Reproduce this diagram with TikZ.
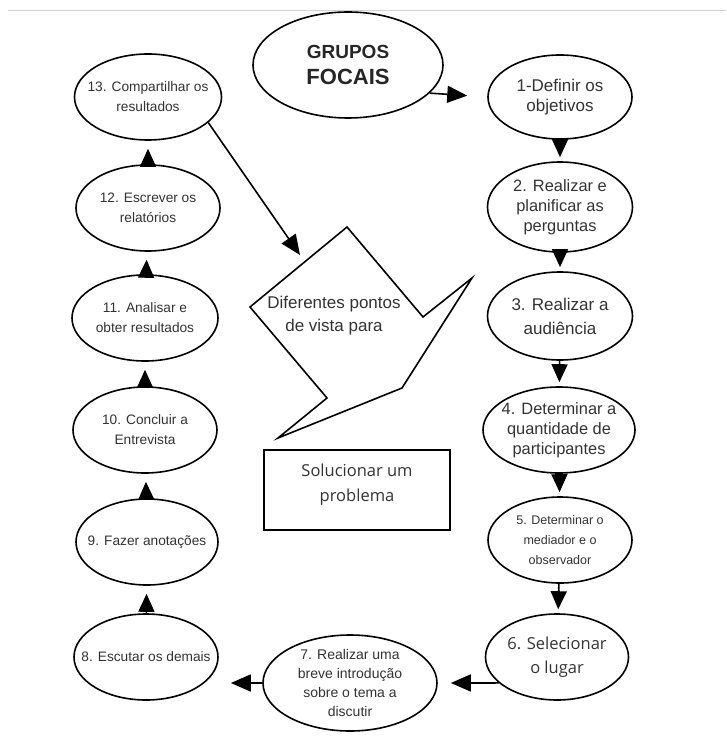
\documentclass[tikz,border=0pt]{standalone}
\usepackage{fontspec}
\setmainfont{Liberation Sans}
\newfontfamily\opensans{Open Sans}
\usetikzlibrary{shapes.geometric,arrows.meta}

\begin{document}
\begin{tikzpicture}[x=1pt,y=-1pt,
        etapa/.style={ellipse, draw, line width=1.6pt, inner sep=-16pt,
            align=center, text=black!80},
        dir/.style={etapa, font=\fontsize{16.4}{20}\selectfont},
        esq/.style={etapa, font=\fontsize{13.7}{20}\selectfont},
        seta/.style={line width=1.6pt, -{Triangle[length=20pt,width=17pt]}},
        passo/.style={line width=1.6pt, -{Triangle[length=18pt,width=16pt]}}]
        \useasboundingbox (0,0) rectangle (726,738);

        % Linha superior
        \draw[gray!35, line width=1pt] (8,11) -- (726,11);

        % Titulo
        \node[ellipse, draw, line width=1.6pt, minimum width=190pt, minimum height=106pt,
            inner sep=-10pt, align=center, text=black!85,
            font=\bfseries\fontsize{22}{26}\selectfont] (g) at (348,65)
            {{\fontsize{19}{26}\selectfont GRUPOS}\\FOCAIS};

        % Coluna da direita
        \node[dir, minimum width=144pt, minimum height=84pt, font=\fontsize{17}{20}\selectfont] (p1) at (560,97) {1-Definir os\\objetivos};
        \node[dir, minimum width=145pt, minimum height=90pt] (p2) at (560,207) {2. Realizar e\\planificar as\\perguntas};
        \node[dir, minimum width=145pt, minimum height=88pt, font=\fontsize{17}{24}\selectfont] (p3) at (560,316) {3. Realizar a\\audiência};
        \node[dir, minimum width=152pt, minimum height=86pt] (p4) at (559,430) {4. Determinar a\\quantidade de\\participantes};
        \node[dir, minimum width=144pt, minimum height=86pt, font=\fontsize{12.5}{20}\selectfont] (p5) at (560,540) {5. Determinar o\\mediador e o\\observador};
        \node[dir, minimum width=143pt, minimum height=86pt, font=\opensans\fontsize{16.5}{24}\selectfont] (p6) at (557,657) {6. Selecionar\\o lugar};

        % Base
        \node[esq, minimum width=174pt, minimum height=96pt, font=\fontsize{14}{19}\selectfont] (p7) at (350,683)
            {7. Realizar uma\\breve introdução\\sobre o tema a\\discutir};

        % Coluna da esquerda
        \node[esq, minimum width=144pt, minimum height=86pt] (p8) at (146,657) {8. Escutar os demais};
        \node[esq, minimum width=142pt, minimum height=86pt] (p9) at (147,542) {9. Fazer anotações};
        \node[esq, minimum width=144pt, minimum height=86pt] (p10) at (145,430) {10. Concluir a\\Entrevista};
        \node[esq, minimum width=146pt, minimum height=86pt] (p11) at (145,318) {11. Analisar e\\obter resultados};
        \node[esq, minimum width=144pt, minimum height=86pt] (p12) at (148,208) {12. Escrever os\\relatórios};
        \node[esq, minimum width=147pt, minimum height=86pt] (p13) at (148,97) {13. Compartilhar os\\resultados};

        % Setas entre as etapas
        \foreach \a/\b in {p1/p2,p2/p3,p3/p4,p4/p5,p5/p6}
            \draw[passo, shorten >=4pt] (\a) -- (\b);
        \foreach \a/\b in {p8/p9,p9/p10,p10/p11,p11/p12,p12/p13}
            \draw[passo, shorten >=8pt] (\a) -- (\b);

        \draw[seta, shorten >=20pt] (g.-19) -- (p1.west);
        \draw[seta, shorten >=13pt] (p6.204) -- (p7.east);
        \draw[seta, shorten >=12pt] (p7.west) -- (p7.west -| p8.east);

        % Forma central
        \draw[line width=1.6pt] (250,307) -- (347,227) -- (423,317) -- (472,278)
            -- (402,388) -- (278,438) -- (327,398) -- cycle;
        \node[align=center, text=black!80, font=\fontsize{17}{23}\selectfont] (vista) at (334,316)
            {Diferentes pontos\\de vista para};
        \coordinate (alvo) at (300,255);
        \draw[seta] (p13.-23) -- (alvo);

        % Caixa
        \node[draw, line width=1.2pt, minimum width=186pt, minimum height=80pt, align=center,
            text depth=14pt, text=black!80, font=\opensans\fontsize{16.5}{25}\selectfont] (caixa) at (357,490)
            {Solucionar um\\problema};
    \end{tikzpicture}
\end{document}
